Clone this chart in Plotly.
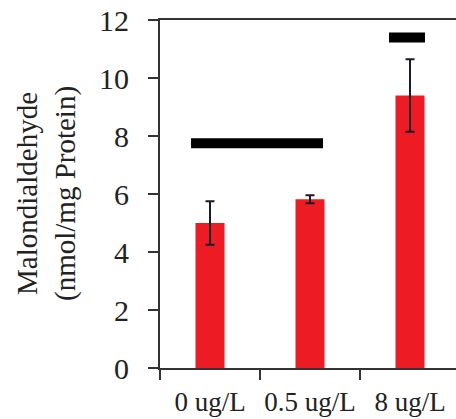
import plotly.graph_objects as go

# Malondialdehyde content by exposure concentration
categories = ["0 ug/L", "0.5 ug/L", "8 ug/L"]
mda_mean = [5.0, 5.82, 9.4]
mda_err = [0.75, 0.14, 1.25]

# Grouping bars above the columns: start, end (category index units) and level
group_start = [-0.19, 1.79]
group_end = [1.13, 2.15]
group_level = [7.75, 11.4]

y_ticks = [0, 2, 4, 6, 8, 10, 12]

FONT = "Liberation Serif, Times New Roman, serif"
AXIS_COLOR = "#333333"
TEXT_COLOR = "#222222"

fig = go.Figure()
fig.add_trace(go.Bar(
    x=categories,
    y=mda_mean,
    width=0.29,
    marker=dict(color="#ED1C24", line=dict(width=0)),
    error_y=dict(type="data", array=mda_err, visible=True,
                 color="#1a1a2a", thickness=2, width=4.5),
))

for x0, x1, lvl in zip(group_start, group_end, group_level):
    fig.add_shape(type="line", xref="x", yref="y",
                  x0=x0, x1=x1, y0=lvl, y1=lvl,
                  line=dict(color="black", width=10))

fig.add_annotation(
    text="Malondialdehyde<br>(nmol/mg Protein)",
    textangle=-90, xref="paper", yref="paper",
    x=(46 - 160) / 296, y=0.5, xanchor="center", yanchor="middle",
    showarrow=False, font=dict(family=FONT, size=29, color=TEXT_COLOR),
)

fig.update_layout(
    width=456, height=419,
    margin=dict(l=160, r=0, t=20, b=51),
    paper_bgcolor="white", plot_bgcolor="white",
    showlegend=False,
    font=dict(family=FONT, size=26, color=TEXT_COLOR),
)
fig.update_xaxes(
    type="category", range=[-0.5, 2.46],
    showline=True, linecolor=AXIS_COLOR, linewidth=2, mirror=True,
    ticks="outside", ticklen=10, tickwidth=2, tickcolor=AXIS_COLOR,
    tickson="boundaries", ticklabelstandoff=9, tickangle=0,
    tickfont=dict(size=27), automargin=False,
    showgrid=False, zeroline=False,
)
fig.update_yaxes(
    range=[0, 12], tickvals=y_ticks,
    showline=True, linecolor=AXIS_COLOR, linewidth=2,
    ticks="outside", ticklen=10, tickwidth=2, tickcolor=AXIS_COLOR,
    ticklabelstandoff=13, tickfont=dict(size=30), automargin=False,
    showgrid=False, zeroline=False,
)

fig.write_html("out.html")
